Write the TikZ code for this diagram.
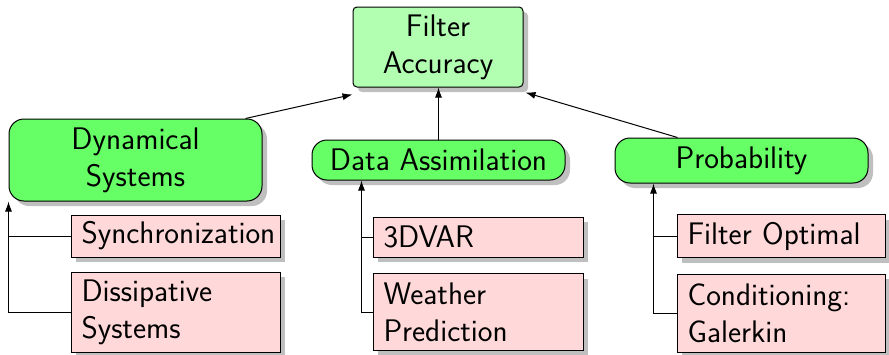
\documentclass[tikz,border=0pt]{standalone}
\usepackage{fontspec}
\usetikzlibrary{shadows,arrows.meta,calc}
\begin{document}
\begin{tikzpicture}[x=1pt,y=-1pt,
  every node/.style={font=\fontsize{31.2}{37}\selectfont\sffamily},
  shad/.style={drop shadow={shadow xshift=5pt,shadow yshift=-5pt,fill=black!25,opacity=1}},
  topbox/.style={draw,line width=1pt,fill=green!30,rounded corners=4pt,shad,
    minimum width=170pt,minimum height=80pt,align=center,inner sep=0pt},
  midbox/.style={draw,line width=1pt,fill=green!60,rounded corners=15pt,shad,
    minimum width=253pt,align=center,inner sep=0pt},
  leafbox/.style={draw,line width=1pt,fill=red!15,shad,
    text width=188pt,inner xsep=10.5pt,inner ysep=0pt,align=left},
  arr/.style={line width=1pt,-{Latex[length=10pt,width=7pt]}},
  ln/.style={line width=1pt}]
\useasboundingbox (0,0) rectangle (889,354);
\node[topbox] (fa) at (438,47) {Filter\\Accuracy};
\node[midbox,minimum height=82pt] (ds) at (135.5,160) {Dynamical\\Systems};
\node[midbox,minimum height=40pt] (da) at (438.5,160) {Data Assimilation};
\node[midbox,minimum height=45pt] (pr) at (741.5,160.5) {Probability};
\node[leafbox,minimum height=42pt] (sy) at (175.5,236) {Synchronization};
\node[leafbox,minimum height=80pt] (di) at (175.5,312) {Dissipative\\Systems};
\node[leafbox,minimum height=40pt,text width=189pt] (v3) at (478,237) {3DVAR};
\node[leafbox,minimum height=77pt,text width=189pt] (wp) at (478,312) {Weather\\Prediction};
\node[leafbox,minimum height=43pt,text width=187pt] (fo) at (781,236) {Filter Optimal};
\node[leafbox,minimum height=78pt,text width=187pt] (co) at (781,313) {Conditioning:\\Galerkin};
% junction points
\coordinate (dsj) at (ds.south west);
\coordinate (daj) at ([xshift=50pt]da.south west);
\coordinate (prj) at ([xshift=39pt]pr.south west);
% child connectors
\draw[arr] (di.west) -| (dsj);
\draw[ln] (sy.west) -- (sy.west -| dsj);
\draw[arr] (wp.west) -| (daj);
\draw[ln] (v3.west) -- (v3.west -| daj);
\draw[arr] (co.west) -| (prj);
\draw[ln] (fo.west) -- (fo.west -| prj);
% top connectors
\coordinate (dsa) at ([xshift=-17pt]ds.north east);
\coordinate (faa) at ([yshift=-7pt]fa.south west);
\draw[arr] (dsa) -- (faa);
\draw[arr] (da.north) -- (fa.south -| da.north);
\coordinate (pra) at ([xshift=63pt]pr.north west);
\coordinate (fab) at ([xshift=2pt,yshift=-5pt]fa.south east);
\draw[arr] (pra) -- (fab);
\end{tikzpicture}
\end{document}
